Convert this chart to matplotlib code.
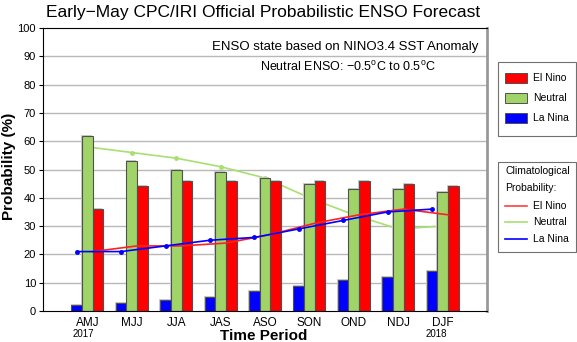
import matplotlib
matplotlib.use("Agg")
import matplotlib.pyplot as plt
from matplotlib.patches import Rectangle
from matplotlib.lines import Line2D
import matplotlib.transforms as mtransforms
import numpy as np

plt.rcParams['font.family'] = ['Liberation Sans', 'DejaVu Sans']
plt.rcParams['mathtext.fontset'] = 'custom'
plt.rcParams['mathtext.rm'] = 'Liberation Sans'

# Forecast seasons and probabilities (%)
seasons = ["AMJ", "MJJ", "JJA", "JAS", "ASO", "SON", "OND", "NDJ", "DJF"]
la_nina = [2, 3, 4, 5, 7, 9, 11, 12, 14]
neutral = [62, 53, 50, 49, 47, 45, 43, 43, 42]
el_nino = [36, 44, 46, 46, 46, 46, 46, 45, 44]

# Climatological probabilities (%)
clim_el_nino = [21, 23, 23, 24, 27, 31, 34, 36, 34]
clim_neutral = [58, 56, 54, 51, 47, 40, 34, 29, 30]
clim_la_nina = [21, 21, 23, 25, 26, 29, 32, 35, 36]

yticks = [0, 10, 20, 30, 40, 50, 60, 70, 80, 90, 100]

RED = "#ff0000"
GREEN = "#a0d468"
BLUE = "#0000ff"
EDGE = "#505050"
W, H = 577, 342

fig = plt.figure(figsize=(W / 100, H / 100), dpi=100)
ax = fig.add_axes([43 / W, 1 - 311 / H, (487 - 43) / W, (311 - 28) / H])

x = np.arange(len(seasons))
bw = 0.24

# grid
for yv in yticks[1:-1]:
    ax.axhline(yv, color="#b8b8b8", lw=1.0, zorder=0)

# neutral climatology sits behind the bars
ax.plot(x, clim_neutral, color="#a8e070", lw=1.2, marker="o", ms=2.5,
        zorder=1)

# soft shadow under the bars
shadow_dx, shadow_dy = -0.02, 0.35
for off, vals in ((-bw, la_nina), (0, neutral), (bw, el_nino)):
    ax.bar(x + off + shadow_dx, np.array(vals) + shadow_dy, width=bw,
           color="#cccccc", edgecolor="none", zorder=1.5)

ax.bar(x - bw, la_nina, width=bw, color=BLUE, edgecolor=EDGE, lw=0.8, zorder=2)
ax.bar(x, neutral, width=bw, color=GREEN, edgecolor=EDGE, lw=0.8, zorder=2)
ax.bar(x + bw, el_nino, width=bw, color=RED, edgecolor=EDGE, lw=0.8, zorder=2)

# El Nino and La Nina climatology drawn over the bars
ax.plot(x + bw / 2, clim_el_nino, color="#ff2020", lw=1.2, zorder=3)
ax.plot(x - bw, clim_la_nina, color=BLUE, lw=1.2, marker="o", ms=2.5,
        zorder=3)

ax.set_xlim(-1, 9)
ax.set_ylim(0, 100)
ax.set_yticks(yticks)
ax.set_yticklabels([str(v) for v in yticks], fontsize=8)
ax.set_xticks(x)
ax.set_xticklabels(seasons, fontsize=8.5)
ax.tick_params(axis="x", length=0, pad=4)
ax.tick_params(axis="y", length=3, width=0.8, pad=2)

for s in ("left", "bottom", "top"):
    ax.spines[s].set_color("black")
    ax.spines[s].set_linewidth(0.8)
ax.spines["right"].set_color("#999999")
ax.spines["right"].set_linewidth(2.0)

trans = mtransforms.blended_transform_factory(ax.transData, ax.transAxes)
ax.text(-0.1, -(334 - 311) / 283, "2017", transform=trans, ha="center",
        va="center", fontsize=7)
ax.text(7.85, -(334 - 311) / 283, "2018", transform=trans, ha="center",
        va="center", fontsize=7)

ax.set_xlabel("Time Period", fontsize=11, fontweight="bold", labelpad=0)
ax.xaxis.label.set_va("center")
ax.xaxis.set_label_coords((264 - 43) / 444, -(335.5 - 311) / 283)
ax.set_ylabel("Probability (%)", fontsize=11, fontweight="bold", labelpad=0)
ax.yaxis.label.set_va("center")
ax.yaxis.set_label_coords(-(43 - 9) / 444, (311 - 166) / 283)

ax.text((345 - 43) / 444, (311 - 47) / 283,
        "ENSO state based on NINO3.4 SST Anomaly",
        transform=ax.transAxes, ha="center", va="center", fontsize=9.5)
ax.text((348 - 43) / 444, (311 - 67) / 283,
        "Neutral ENSO: \u22120.5$^\\mathregular{o}$C to 0.5$^\\mathregular{o}$C",
        transform=ax.transAxes, ha="center", va="center", fontsize=9)

fig.text(263 / W, 1 - 12 / H,
         "Early\u2212May CPC/IRI Official Probabilistic ENSO Forecast",
         ha="center", va="center", fontsize=12.5)

# legend panels drawn in pixel space
lg = fig.add_axes([0, 0, 1, 1], facecolor="none")
lg.set_xlim(0, W)
lg.set_ylim(H, 0)
lg.axis("off")

lg.add_patch(Rectangle((498, 62), 78, 74, fill=False, edgecolor="#707070",
                       lw=0.8))
for yc, col, lab in ((78, RED, "El Nino"), (98, GREEN, "Neutral"),
                     (118, BLUE, "La Nina")):
    lg.add_patch(Rectangle((505, yc - 5), 22, 10, facecolor=col,
                           edgecolor=EDGE, lw=0.7))
    lg.text(533, yc, lab, fontsize=7.5, va="center", ha="left")

lg.add_patch(Rectangle((498, 162), 78, 90, fill=False, edgecolor="#707070",
                       lw=0.8))
lg.text(505, 171, "Climatological", fontsize=7.5, va="center", ha="left")
lg.text(505, 188, "Probability:", fontsize=7.5, va="center", ha="left")
for yc, col, lab in ((206, "#ff4040", "El Nino"), (222, "#a8e070", "Neutral"),
                     (239, BLUE, "La Nina")):
    lg.add_line(Line2D([505, 527], [yc, yc], color=col, lw=1.2))
    lg.text(533, yc, lab, fontsize=7.5, va="center", ha="left")

fig.savefig("out.png", dpi=100)
